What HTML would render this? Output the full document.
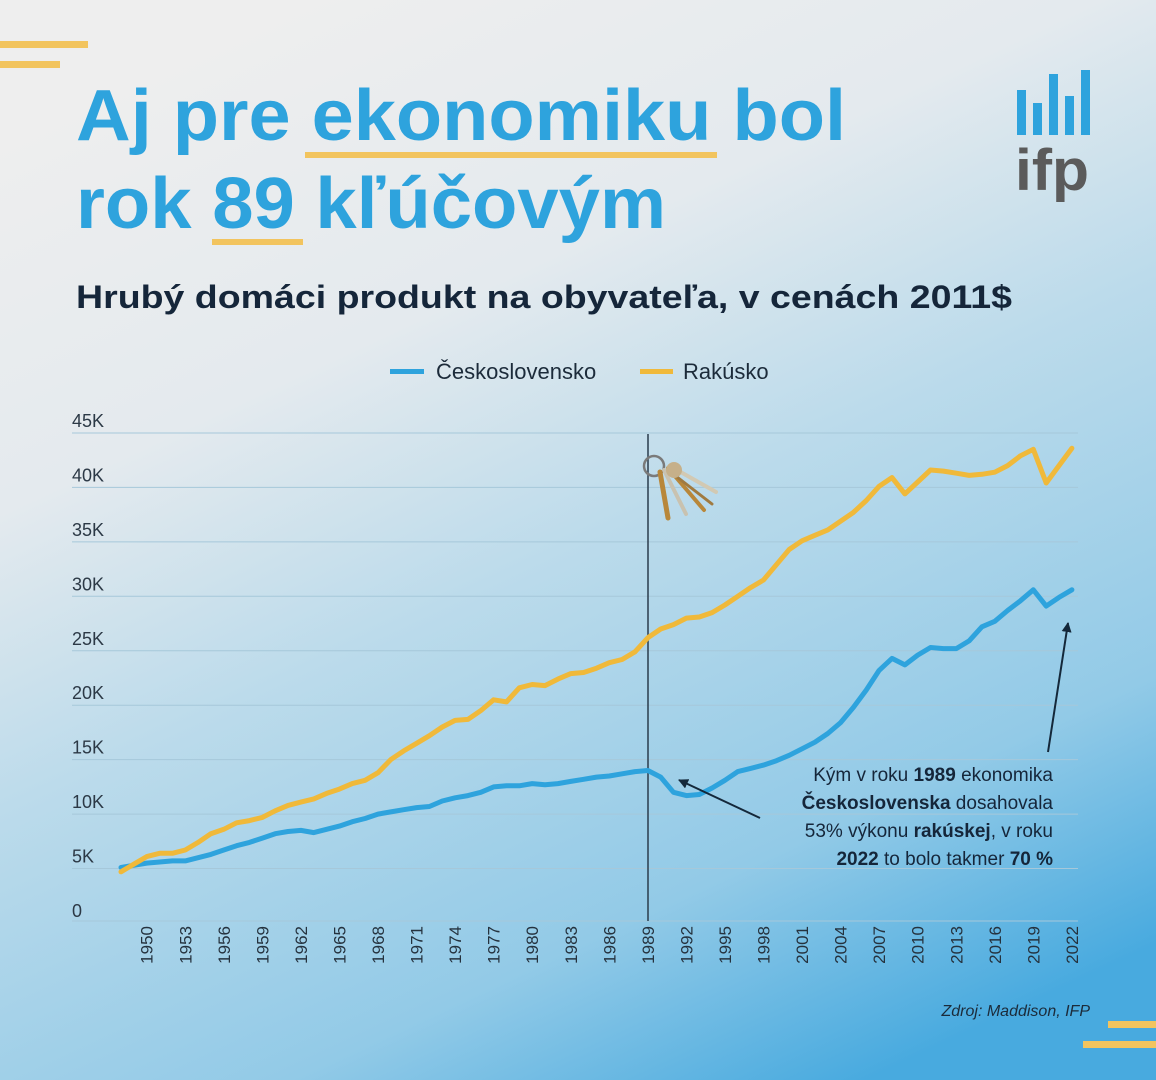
<!DOCTYPE html>
<html><head><meta charset="utf-8"><style>
html,body{margin:0;padding:0;width:1156px;height:1080px;overflow:hidden}
svg{display:block}
text{font-family:"Liberation Sans",sans-serif}
</style></head><body>
<svg id="chart" width="1156" height="1080" viewBox="0 0 1156 1080">
<defs>
<linearGradient id="bg" x1="0.25" y1="0" x2="0.75" y2="1">
<stop offset="0" stop-color="#eeeeee"/>
<stop offset="0.28" stop-color="#e4eaee"/>
<stop offset="0.5" stop-color="#bcdbeb"/>
<stop offset="0.8" stop-color="#92cae7"/>
<stop offset="1" stop-color="#48aadf"/>
</linearGradient>
<marker id="arr" markerWidth="10" markerHeight="10" refX="9" refY="5" orient="auto" markerUnits="userSpaceOnUse" viewBox="0 0 10 10"><path d="M0,0 L10,5 L0,10 z" fill="#14283a"/></marker>
</defs>
<rect width="1156" height="1080" fill="url(#bg)"/>
<g fill="#f2c45e">
<rect x="0" y="41" width="88" height="7"/><rect x="0" y="61" width="60" height="7"/>
<rect x="1108" y="1021" width="48" height="7"/><rect x="1083" y="1041" width="73" height="7"/>
</g>
<g>
<rect x="305" y="152" width="412" height="6" fill="#f2c45e"/>
<rect x="212" y="239" width="91" height="6" fill="#f2c45e"/>
<text x="76" y="140" font-size="72" font-weight="bold" fill="#2ea3dd" textLength="770" lengthAdjust="spacingAndGlyphs">Aj pre ekonomiku bol</text>
<text x="76" y="228" font-size="72" font-weight="bold" fill="#2ea3dd" textLength="590" lengthAdjust="spacingAndGlyphs">rok 89 kľúčovým</text>
</g>
<g>
<g fill="#2ea3dd"><rect x="1017" y="90" width="9" height="45"/><rect x="1033" y="103" width="9" height="32"/><rect x="1049" y="74" width="9" height="61"/><rect x="1065" y="96" width="9" height="39"/><rect x="1081" y="70" width="9" height="65"/></g>
<text x="1015" y="190" font-size="58" font-weight="bold" fill="#5b5b5b" textLength="74" lengthAdjust="spacingAndGlyphs">ifp</text>
</g>
<text x="76" y="308" font-size="32" font-weight="bold" fill="#15263a" textLength="936" lengthAdjust="spacingAndGlyphs">Hrubý domáci produkt na obyvateľa, v cenách 2011$</text>
<g>
<g><rect x="390" y="369" width="34" height="5" fill="#2ea3dd"/><text x="436" y="379" font-size="22" fill="#1c2b3a">Československo</text></g>
<g><rect x="640" y="369" width="33" height="5" fill="#f0b93a"/><text x="683" y="379" font-size="22" fill="#1c2b3a">Rakúsko</text></g>
</g>
<g id="grid"></g>
<g id="yax"></g>
<g id="xax"></g>
<line x1="648" y1="434" x2="648" y2="921" stroke="#2a3c4c" stroke-width="1.5"/>
<g id="series"></g>
<g>
<circle cx="654" cy="466" r="10" fill="none" stroke="#7a7a7a" stroke-width="2.5"/>
<g stroke-linecap="round">
<line x1="660" y1="472" x2="668" y2="518" stroke="#b8873a" stroke-width="5"/>
<line x1="664" y1="470" x2="686" y2="514" stroke="#c9c2b0" stroke-width="4"/>
<line x1="668" y1="468" x2="704" y2="510" stroke="#b8873a" stroke-width="4"/>
<line x1="670" y1="466" x2="716" y2="492" stroke="#d2c9b3" stroke-width="4"/>
<line x1="668" y1="470" x2="712" y2="504" stroke="#a07a40" stroke-width="3"/>
</g>
<circle cx="674" cy="470" r="8" fill="#c6b08a"/>
</g>
<g font-size="19" fill="#15263a" text-anchor="end">
<text x="1053" y="781">Kým v roku <tspan font-weight="bold">1989</tspan> ekonomika</text>
<text x="1053" y="809"><tspan font-weight="bold">Československa</tspan> dosahovala</text>
<text x="1053" y="837">53% výkonu <tspan font-weight="bold">rakúskej</tspan>, v roku</text>
<text x="1053" y="865"><tspan font-weight="bold">2022</tspan> to bolo takmer <tspan font-weight="bold">70 %</tspan></text>
</g>
<line x1="760" y1="818" x2="679" y2="780" stroke="#14283a" stroke-width="2" marker-end="url(#arr)"/>
<line x1="1048" y1="752" x2="1068" y2="623" stroke="#14283a" stroke-width="2" marker-end="url(#arr)"/>
<text x="1090" y="1016" font-size="16" font-style="italic" fill="#1c2b3a" text-anchor="end">Zdroj: Maddison, IFP</text>
</svg>
<script>
const years = [];
for (let y = 1948; y <= 2022; y++) years.push(y);
const czValues = [5.1,5.3,5.5,5.6,5.7,5.7,6.0,6.3,6.7,7.1,7.4,7.8,8.2,8.4,8.5,8.3,8.6,8.9,9.3,9.6,10.0,10.2,10.4,10.6,10.7,11.2,11.5,11.7,12.0,12.5,12.6,12.6,12.8,12.7,12.8,13.0,13.2,13.4,13.5,13.7,13.9,14.0,13.4,12.0,11.7,11.8,12.4,13.1,13.9,14.2,14.5,14.9,15.4,16.0,16.6,17.4,18.4,19.8,21.4,23.2,24.3,23.7,24.6,25.3,25.2,25.2,25.9,27.2,27.7,28.7,29.6,30.6,29.1,29.9,30.6];
const atValues = [4.7,5.4,6.1,6.4,6.4,6.7,7.4,8.2,8.6,9.2,9.4,9.7,10.3,10.8,11.1,11.4,11.9,12.3,12.8,13.1,13.8,15.0,15.8,16.5,17.2,18.0,18.6,18.7,19.5,20.5,20.3,21.6,21.9,21.8,22.4,22.9,23.0,23.4,23.9,24.2,24.9,26.2,27.0,27.4,28.0,28.1,28.5,29.2,30.0,30.8,31.5,32.9,34.3,35.1,35.6,36.1,36.9,37.7,38.8,40.1,40.9,39.4,40.5,41.6,41.5,41.3,41.1,41.2,41.4,42.0,42.9,43.5,40.4,42.0,43.6];
const yTicks = [0,5,10,15,20,25,30,35,40,45];
const yTickLabels = ["0","5K","10K","15K","20K","25K","30K","35K","40K","45K"];
const xTickYears = [1950,1953,1956,1959,1962,1965,1968,1971,1974,1977,1980,1983,1986,1989,1992,1995,1998,2001,2004,2007,2010,2013,2016,2019,2022];

const NS = "http://www.w3.org/2000/svg";
const x = yr => 121 + (yr - 1948) * 12.85;
const y = v => 923 - v * 10.89;
function mk(tag, attrs, parent) {
  const e = document.createElementNS(NS, tag);
  for (const k in attrs) e.setAttribute(k, attrs[k]);
  parent.appendChild(e);
  return e;
}
const grid = document.getElementById('grid'), yax = document.getElementById('yax'), xax = document.getElementById('xax'), series = document.getElementById('series');
yTicks.forEach((t, i) => {
  if (t > 0) {
    const l = mk('line', {x1: 72, x2: 1078, y1: y(t), y2: y(t), stroke: '#a6c8da', 'stroke-width': 1}, grid);
    
    
  }
  const tx = mk('text', {x: 72, y: y(t) - 6, 'font-size': 18, fill: '#2c3946'}, yax);
  tx.textContent = yTickLabels[i];
  
  
});
const base = mk('line', {x1: 72, x2: 1078, y1: 921, y2: 921, stroke: '#a6c8da', 'stroke-width': 1}, grid);


xTickYears.forEach(yr => {
  const tx = mk('text', {x: 0, y: 0, 'font-size': 17, fill: '#25323e', 'text-anchor': 'end', transform: `translate(${x(yr) + 6},926) rotate(-90)`}, xax);
  tx.textContent = yr;
  
  
});
function line(vals, color, name) {
  const d = vals.map((v, i) => (i ? 'L' : 'M') + x(years[i]).toFixed(1) + ',' + y(v).toFixed(1)).join('');
  const p = mk('path', {d, fill: 'none', stroke: color, 'stroke-width': 5, 'stroke-linejoin': 'round', 'stroke-linecap': 'round'}, series);
  
  
}
line(czValues, '#2ea3dd', 'line-ceskoslovensko');
line(atValues, '#f0b93a', 'line-rakusko');
</script>
</body></html>
